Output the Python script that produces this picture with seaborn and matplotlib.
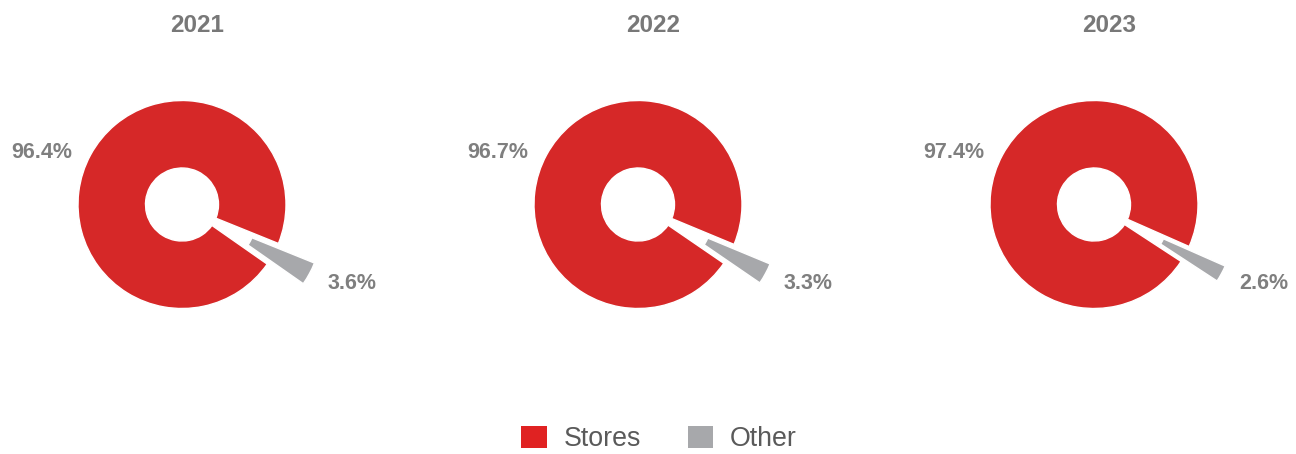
import matplotlib
matplotlib.use("Agg")
import matplotlib.pyplot as plt
from matplotlib.patches import Patch
import seaborn as sns

# ---- data ----
years = ["2021", "2022", "2023"]
categories = ["Stores", "Other"]
stores = [96.4, 96.7, 97.4]
other = [3.6, 3.3, 2.6]

# ---- style ----
sns.set_theme(style="white")
plt.rcParams["font.family"] = ["Liberation Sans", "DejaVu Sans"]

RED = "#D62828"
GRAY = "#A7A8AB"
LEG_RED = "#E02222"
LABEL_C = "#7F7F7F"
TITLE_C = "#787878"
LEG_TXT = "#5A5A5A"

W, H = 1296, 454
fig = plt.figure(figsize=(W / 100, H / 100), dpi=100)
ax = fig.add_axes([0, 0, 1, 1])

R_OUT = 104
R_IN = 36.5
first_cx = 182
step = 456
cy = H - 204.5
other_mid_angle = -28.5
EXPLODE = 41

for i, (yr, s, o) in enumerate(zip(years, stores, other)):
    cx = first_cx + i * step
    vals = [o, s]
    start = other_mid_angle - 360 * o / (o + s) / 2
    wedges, texts = ax.pie(
        vals,
        colors=[GRAY, RED],
        labels=[f"{o}%", f"{s}%"],
        labeldistance=1.2,
        explode=[EXPLODE, 0],
        startangle=start,
        counterclock=True,
        radius=R_OUT,
        center=(cx, cy),
        frame=True,
        wedgeprops=dict(width=R_OUT - R_IN, edgecolor="white", linewidth=1),
        textprops=dict(color=LABEL_C, fontsize=15.5, fontweight="bold"),
    )
    texts[0].set_ha("left")
    texts[1].set_ha("right")
    texts[1].set_y(texts[1].get_position()[1] - 8)
    ax.text(cx + 15, H - 25, yr, ha="center", va="center",
            fontsize=17.5, fontweight="bold", color=TITLE_C)

ax.set_xlim(0, W)
ax.set_ylim(0, H)
ax.set_aspect("equal")
ax.axis("off")

handles = [Patch(facecolor=LEG_RED, edgecolor="none"),
           Patch(facecolor=GRAY, edgecolor="none")]
fig.legend(handles, categories, loc="center", bbox_to_anchor=(659 / W, 15 / H),
           ncol=2, frameon=False, fontsize=19.3, labelcolor=LEG_TXT,
           handlelength=0.95, handleheight=0.9, handletextpad=0.63,
           columnspacing=1.75, borderpad=0, borderaxespad=0)

fig.savefig("out.png", dpi=100)
